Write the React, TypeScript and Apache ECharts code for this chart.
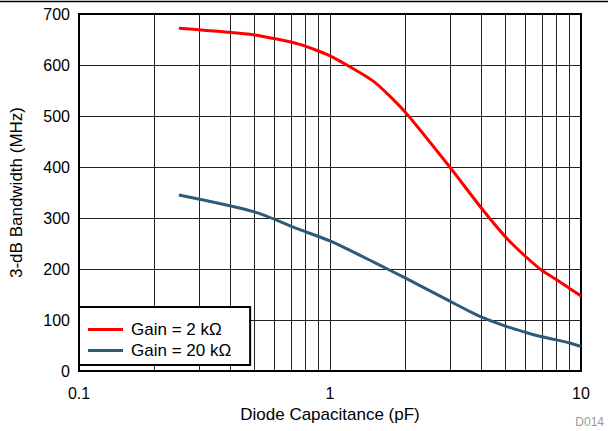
import React, { useEffect, useRef } from "react";
import * as echarts from "echarts";

// Diode capacitance (pF) sample points
const capacitance = [0.25, 0.5, 0.75, 1, 1.5, 2, 3, 4, 5, 6, 7, 8, 9, 10];
// 3-dB bandwidth (MHz) for each transimpedance gain
const bw2k = [672, 659, 641, 618, 567, 507, 400, 320, 263, 225, 197, 179, 162, 147];
const bw20k = [345, 312, 278, 255, 213, 182, 137, 106, 88, 76, 67, 61, 55, 48];
// Minor decade grid positions on the log axis
const minorGrid = [0.2, 0.3, 0.4, 0.5, 0.6, 0.7, 0.8, 0.9, 2, 3, 4, 5, 6, 7, 8, 9];
const seriesNames = ["Gain = 2 k\u03A9", "Gain = 20 k\u03A9"];

const FONT = "'Liberation Sans', Arial, sans-serif";

export default function App() {
  const ref = useRef<HTMLDivElement>(null);

  useEffect(() => {
    document.body.style.margin = "0";
    const chart = echarts.init(ref.current!, null, { renderer: "svg" });
    const pairs = (ys: number[]) => capacitance.map((x, i) => [x, ys[i]]);
    chart.setOption({
      animation: false,
      textStyle: { fontFamily: FONT },
      grid: {
        left: 79,
        right: 27,
        top: 14,
        bottom: 60,
        outerBoundsMode: "none",
        containLabel: false,
        show: true,
        borderColor: "#000",
        borderWidth: 2,
        z: 3,
      },
      legend: {
        left: 79,
        top: 307,
        orient: "vertical",
        backgroundColor: "#fff",
        borderColor: "#000",
        borderWidth: 2,
        borderRadius: 0,
        padding: [14, 19, 6, 9],
        itemGap: 4,
        itemWidth: 35,
        itemHeight: 3,
        icon: "rect",
        selectedMode: false,
        textStyle: { fontSize: 17, color: "#000", fontFamily: FONT, padding: [0, 0, 0, 3] },
        data: seriesNames,
      },
      xAxis: {
        type: "log",
        logBase: 10,
        min: 0.1,
        max: 10,
        name: "Diode Capacitance (pF)",
        nameLocation: "middle",
        nameGap: 34,
        nameTextStyle: { fontSize: 17, color: "#000", fontFamily: FONT },
        axisLine: { show: true, lineStyle: { color: "#000", width: 2 } },
        axisTick: { show: false },
        axisLabel: {
          fontSize: 16,
          color: "#000",
          margin: 14,
          fontFamily: FONT,
          formatter: (v: number) => (v < 1 ? String(v) : String(Math.round(v))),
        },
        splitLine: { show: true, lineStyle: { color: "#222", width: 1 } },
      },
      yAxis: {
        type: "value",
        min: 0,
        max: 700,
        interval: 100,
        name: "3-dB Bandwidth (MHz)",
        nameLocation: "middle",
        nameGap: 54,
        nameTextStyle: { fontSize: 17, color: "#000", fontFamily: FONT },
        axisLine: { show: true, lineStyle: { color: "#000", width: 2 } },
        axisTick: { show: false },
        axisLabel: { fontSize: 16, color: "#000", margin: 9, fontFamily: FONT },
        splitLine: { show: true, lineStyle: { color: "#222", width: 1 } },
      },
      graphic: [
        {
          type: "line",
          shape: { x1: 0, y1: 1.5, x2: 608, y2: 1.5 },
          style: { stroke: "#000", lineWidth: 1.5 },
        },
        {
          type: "text",
          right: 4,
          top: 416,
          style: { text: "D014", fontSize: 12, fill: "#999", fontFamily: FONT },
        },
      ],
      series: [
        {
          name: seriesNames[0],
          type: "line",
          data: pairs(bw2k),
          smooth: 0.2,
          symbol: "none",
          showSymbol: false,
          lineStyle: { color: "#ff0000", width: 3 },
          itemStyle: { color: "#ff0000" },
          z: 5,
          markLine: {
            silent: true,
            symbol: "none",
            label: { show: false },
            lineStyle: { color: "#222", width: 1, type: "solid" },
            z: 1,
            data: minorGrid.map((v) => ({ xAxis: v })),
          },
        },
        {
          name: seriesNames[1],
          type: "line",
          data: pairs(bw20k),
          smooth: 0.25,
          symbol: "none",
          showSymbol: false,
          lineStyle: { color: "#2e5b77", width: 3 },
          itemStyle: { color: "#2e5b77" },
          z: 5,
        },
      ],
    });
    return () => chart.dispose();
  }, []);

  return <div ref={ref} style={{ width: 608, height: 431 }} />;
}
